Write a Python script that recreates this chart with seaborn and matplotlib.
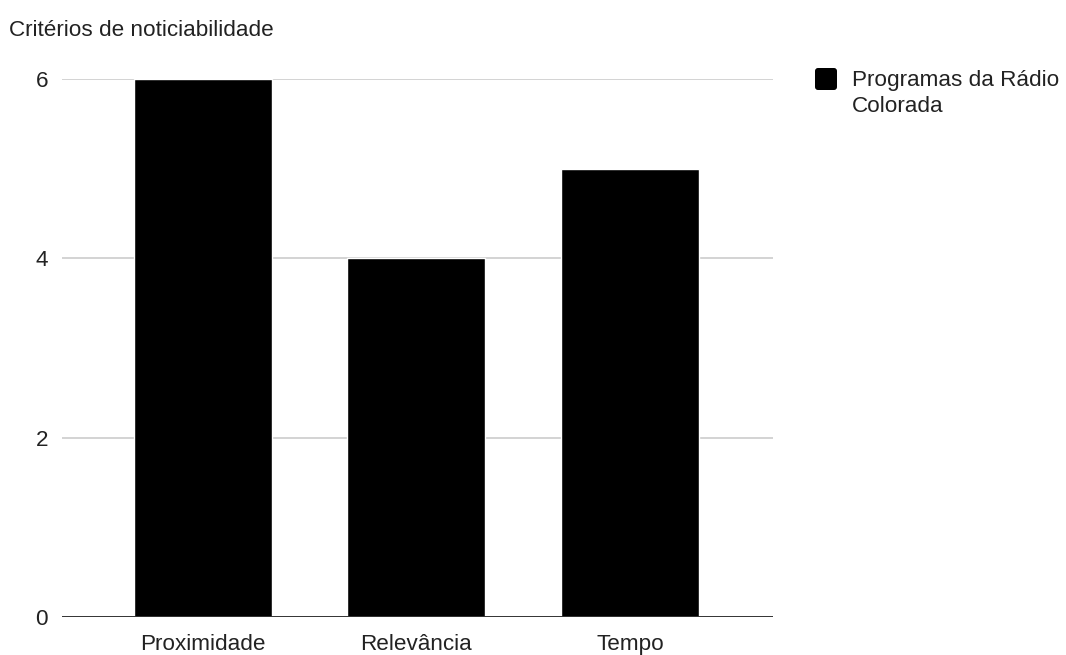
import matplotlib
matplotlib.use("Agg")
import matplotlib.pyplot as plt
import seaborn as sns
import pandas as pd
from matplotlib.patches import FancyBboxPatch
from matplotlib.transforms import IdentityTransform

# Data
categorias = ["Proximidade", "Relevância", "Tempo"]
valores = [6, 4, 5]
serie = "Programas da Rádio\nColorada"

df = pd.DataFrame({"criterio": categorias, "valor": valores})

sns.set_style("white")
plt.rcParams["font.family"] = ["Liberation Sans", "DejaVu Sans"]

W, H = 1066, 655
fig = plt.figure(figsize=(W / 100, H / 100), dpi=100)
ax = fig.add_axes([62 / W, 38 / H, 711 / W, 538 / H])

sns.barplot(data=df, x="criterio", y="valor", color="black", width=0.646,
            saturation=1, ax=ax, zorder=3)

ax.set_ylim(0, 6)
ax.set_xlim(-0.66, 2.67)
ax.set_yticks([0, 2, 4, 6])
ax.set_xlabel("")
ax.set_ylabel("")
for y in [2, 4, 6]:
    ax.axhline(y, color="#cccccc", linewidth=1.2, zorder=1)
ax.axhline(0, color="#333333", linewidth=1.4, zorder=4)
for s in ax.spines.values():
    s.set_visible(False)
ax.tick_params(axis="both", length=0, labelsize=16.2, colors="#222222")
ax.tick_params(axis="y", pad=10)
ax.tick_params(axis="x", pad=12)

fig.text(9 / W, 1 - 31 / H, "Critérios de noticiabilidade", fontsize=16.2,
         color="#222222", va="center", ha="left")

# legend: rounded square next to the first line of the label
fig.patches.append(FancyBboxPatch((815, H - 90), 22, 22,
                                  boxstyle="round,pad=0,rounding_size=3",
                                  transform=IdentityTransform(),
                                  facecolor="black", edgecolor="none"))
fig.text(852 / W, 1 - 70 / H, serie, fontsize=16.2, color="#222222",
         va="top", ha="left", linespacing=1.32)

fig.savefig("out.png", dpi=100)
